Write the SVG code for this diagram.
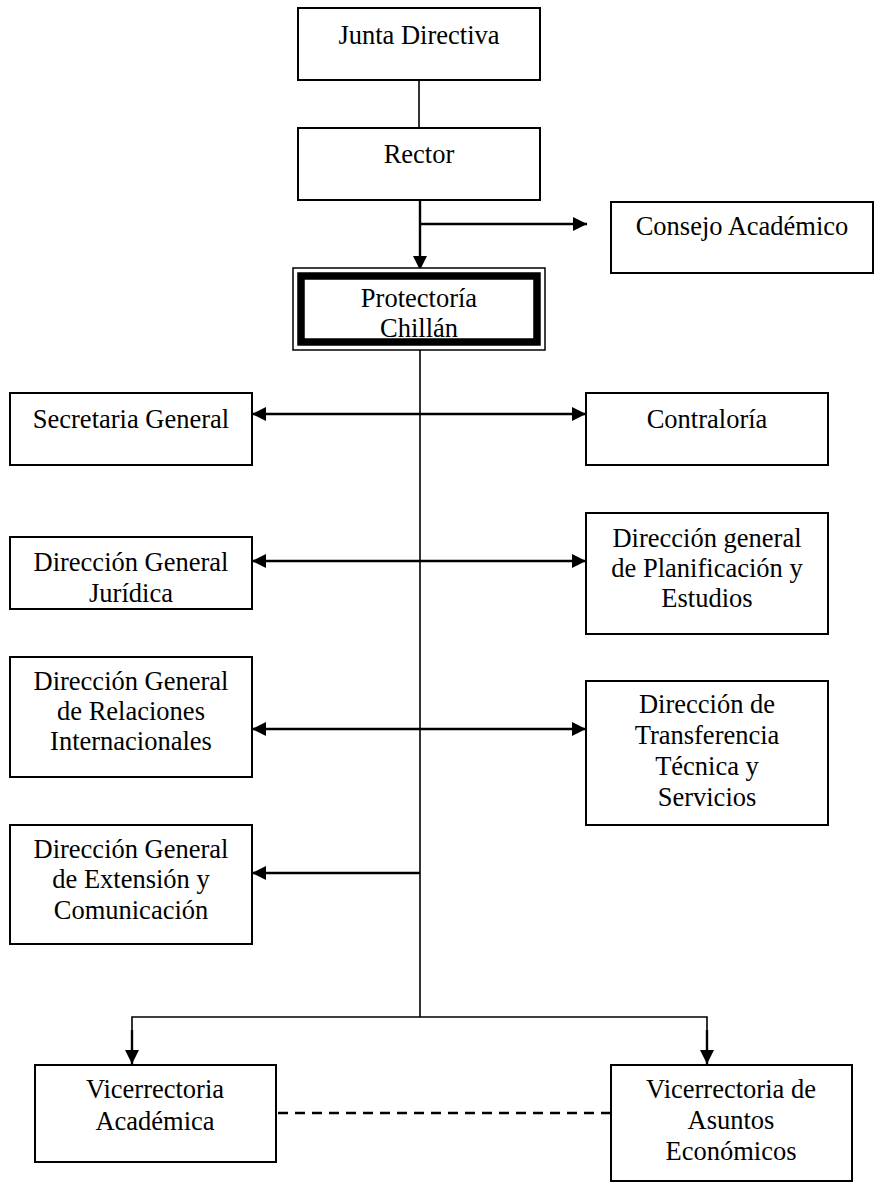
<svg xmlns="http://www.w3.org/2000/svg" width="878" height="1184" viewBox="0 0 878 1184">
  <style>
    .box { fill: #ffffff; stroke: #000000; stroke-width: 2; }
    .lbl { font-family: "Liberation Serif", "Times New Roman", serif; font-size: 26.5px; fill: #000000; text-anchor: middle; }
    .ln { fill: none; stroke: #000000; stroke-width: 1.6; }
    .ln2 { fill: none; stroke: #000000; stroke-width: 2.4; }
    .dash { fill: none; stroke: #000000; stroke-width: 2.4; stroke-dasharray: 10 7; }
  </style>
  <defs>
    <marker id="ah" markerUnits="userSpaceOnUse" markerWidth="14" markerHeight="14" viewBox="0 0 14 14" refX="14" refY="7" orient="auto-start-reverse">
      <path d="M0,0 L14,7 L0,14 Z" fill="#000000"/>
    </marker>
  </defs>

  <!-- connectors -->
  <g id="connectors">
    <line class="ln" x1="419" y1="80" x2="419" y2="128"/>
    <line class="ln2" x1="420" y1="200" x2="420" y2="270" marker-end="url(#ah)"/>
    <line class="ln2" x1="420" y1="224" x2="587" y2="224" marker-end="url(#ah)"/>
    <line class="ln" x1="420" y1="350" x2="420" y2="1017"/>
    <line class="ln2" x1="252" y1="414" x2="586" y2="414" marker-start="url(#ah)" marker-end="url(#ah)"/>
    <line class="ln2" x1="252" y1="561" x2="586" y2="561" marker-start="url(#ah)" marker-end="url(#ah)"/>
    <line class="ln2" x1="252" y1="729" x2="586" y2="729" marker-start="url(#ah)" marker-end="url(#ah)"/>
    <line class="ln2" x1="420" y1="873" x2="252" y2="873" marker-end="url(#ah)"/>
    <polyline class="ln" points="132,1064 132,1017 707,1017 707,1064"/>
    <line class="ln2" x1="132" y1="1030" x2="132" y2="1064" marker-end="url(#ah)"/>
    <line class="ln2" x1="707" y1="1030" x2="707" y2="1064" marker-end="url(#ah)"/>
    <line class="dash" x1="278" y1="1113" x2="610" y2="1113"/>
  </g>

  <g id="junta">
    <rect class="box" x="298" y="8" width="242" height="72"/>
    <text class="lbl" x="419" y="44">Junta Directiva</text>
  </g>

  <g id="rector">
    <rect class="box" x="298" y="128" width="242" height="72"/>
    <text class="lbl" x="419" y="163">Rector</text>
  </g>

  <g id="consejo">
    <rect class="box" x="611" y="202" width="262" height="71"/>
    <text class="lbl" x="742" y="235">Consejo Académico</text>
  </g>

  <g id="protectoria">
    <rect x="293" y="268" width="252" height="82" fill="#ffffff" stroke="#000000" stroke-width="1.5"/>
    <rect x="301" y="276" width="236" height="66" fill="#ffffff" stroke="#000000" stroke-width="7.5"/>
    <text class="lbl" x="419" y="307">Protectoría</text>
    <text class="lbl" x="419" y="337">Chillán</text>
  </g>

  <g id="secretaria">
    <rect class="box" x="10" y="393" width="242" height="72"/>
    <text class="lbl" x="131" y="428">Secretaria General</text>
  </g>

  <g id="contraloria">
    <rect class="box" x="586" y="393" width="242" height="72"/>
    <text class="lbl" x="707" y="428">Contraloría</text>
  </g>

  <g id="juridica">
    <rect class="box" x="10" y="537" width="242" height="72"/>
    <text class="lbl" x="131" y="571">Dirección General</text>
    <text class="lbl" x="131" y="602">Jurídica</text>
  </g>

  <g id="planificacion">
    <rect class="box" x="586" y="513" width="242" height="121"/>
    <text class="lbl" x="707" y="547">Dirección general</text>
    <text class="lbl" x="707" y="577">de Planificación y</text>
    <text class="lbl" x="707" y="607">Estudios</text>
  </g>

  <g id="relaciones">
    <rect class="box" x="10" y="657" width="242" height="120"/>
    <text class="lbl" x="131" y="690">Dirección General</text>
    <text class="lbl" x="131" y="720">de Relaciones</text>
    <text class="lbl" x="131" y="750">Internacionales</text>
  </g>

  <g id="transferencia">
    <rect class="box" x="586" y="681" width="242" height="144"/>
    <text class="lbl" x="707" y="713">Dirección de</text>
    <text class="lbl" x="707" y="744">Transferencia</text>
    <text class="lbl" x="707" y="775">Técnica y</text>
    <text class="lbl" x="707" y="806">Servicios</text>
  </g>

  <g id="extension">
    <rect class="box" x="10" y="825" width="242" height="119"/>
    <text class="lbl" x="131" y="858">Dirección General</text>
    <text class="lbl" x="131" y="888">de Extensión y</text>
    <text class="lbl" x="131" y="919">Comunicación</text>
  </g>

  <g id="vice-academica">
    <rect class="box" x="35" y="1065" width="241" height="97"/>
    <text class="lbl" x="155" y="1098">Vicerrectoria</text>
    <text class="lbl" x="155" y="1130">Académica</text>
  </g>

  <g id="vice-economicos">
    <rect class="box" x="611" y="1065" width="241" height="116"/>
    <text class="lbl" x="731" y="1098">Vicerrectoria de</text>
    <text class="lbl" x="731" y="1129">Asuntos</text>
    <text class="lbl" x="731" y="1160">Económicos</text>
  </g>
</svg>
